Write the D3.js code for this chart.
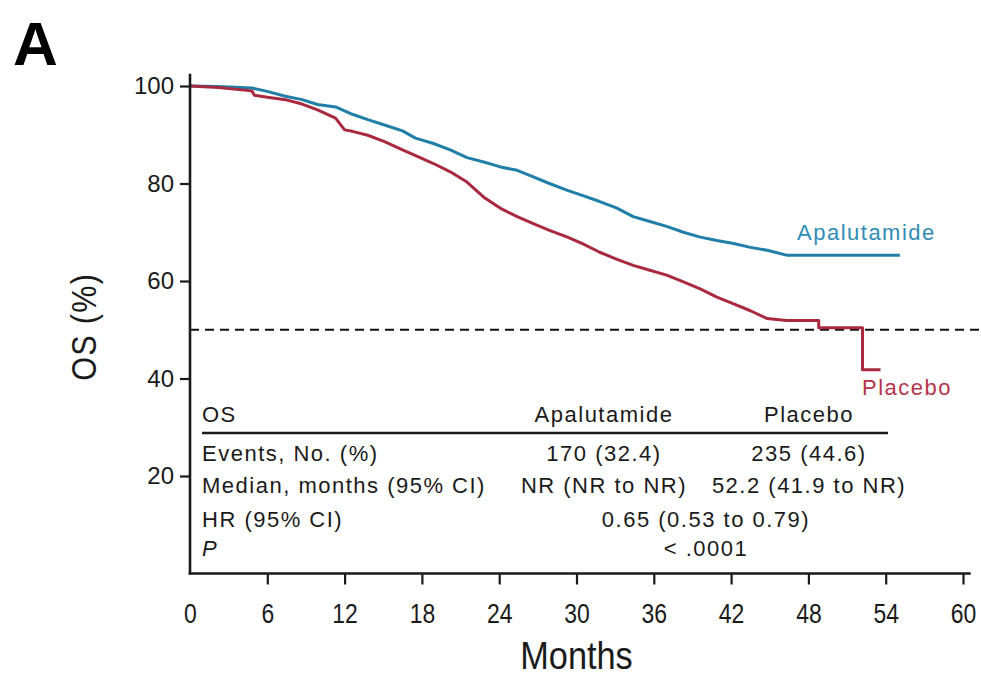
<!DOCTYPE html>
<html>
<head>
<meta charset="utf-8">
<script src="https://cdn.jsdelivr.net/npm/d3@7/dist/d3.min.js"></script>
<style>
  html, body { margin: 0; padding: 0; background: #ffffff; }
  svg { display: block; }
  .regular { font-family: "Liberation Sans", Arial, Helvetica, sans-serif; }
</style>
</head>
<body>
<svg id="chart" width="981" height="678"></svg>
<script>
// Kaplan-Meier overall survival, months vs OS (%)
const apaMonths = [0, 2.2, 4.8, 6.0, 7.4, 8.7, 9.9, 11.3, 12.6, 13.8, 15.1, 16.5, 17.5, 18.9, 20.2, 21.5, 22.8, 24.1, 25.4, 26.6, 27.9, 29.3, 30.5, 31.8, 33.1, 34.4, 35.7, 37.0, 38.3, 39.6, 40.9, 42.2, 43.5, 44.8, 46.3, 55.1];
const apaOS     = [100, 99.9, 99.6, 98.9, 97.9, 97.2, 96.2, 95.7, 94.2, 93.1, 92.0, 90.8, 89.3, 88.2, 86.9, 85.3, 84.4, 83.4, 82.7, 81.4, 80.0, 78.6, 77.5, 76.3, 75.0, 73.2, 72.2, 71.2, 70.0, 69.0, 68.3, 67.7, 66.9, 66.3, 65.3, 65.3];

const plaMonths = [0, 2.2, 4.8, 5.0, 6.0, 7.4, 8.7, 9.9, 11.3, 12.0, 12.6, 13.8, 15.1, 16.5, 17.6, 18.9, 20.2, 21.5, 22.8, 24.1, 25.4, 26.6, 27.9, 29.3, 30.5, 31.8, 33.1, 34.4, 35.7, 37.0, 38.3, 39.6, 40.9, 42.2, 43.5, 44.8, 46.3, 48.8, 48.8, 52.2, 52.2, 53.6];
const plaOS     = [100, 99.7, 99.0, 98.1, 97.7, 97.2, 96.3, 95.1, 93.4, 91.0, 90.7, 89.9, 88.6, 86.9, 85.6, 84.1, 82.4, 80.3, 77.2, 74.9, 73.2, 71.8, 70.4, 69.0, 67.6, 65.9, 64.5, 63.2, 62.2, 61.2, 59.8, 58.4, 56.7, 55.3, 53.9, 52.3, 51.9, 51.9, 50.4, 50.4, 41.8, 41.8];

const xTicks = [0, 6, 12, 18, 24, 30, 36, 42, 48, 54, 60];
const yTicks = [20, 40, 60, 80, 100];
const medianLevel = 50;

const seriesNames = ["Apalutamide", "Placebo"];
const seriesColors = ["#1f7fa8", "#a9293f"];
const labelColors = ["#2f8cb6", "#b3354b"];

// Summary table
const tableHeader = ["OS", "Apalutamide", "Placebo"];
const tableRows = [
  { label: "Events, No. (%)", apa: "170 (32.4)", pla: "235 (44.6)" },
  { label: "Median, months (95% CI)", apa: "NR (NR to NR)", pla: "52.2 (41.9 to NR)" },
  { label: "HR (95% CI)", both: "0.65 (0.53 to 0.79)" },
  { label: "P", both: "< .0001", italic: true }
];

const svg = d3.select("#chart");
const W = 981;
const ink = "#1a1a1a";
const condense = 0.82; // horizontal squeeze for the condensed axis lettering

const x = d3.scaleLinear().domain([0, 60]).range([190, 963]);
const y = d3.scaleLinear().domain([0, 100]).range([573.5, 86]);

// Panel letter
svg.append("text")
  .attr("class", "regular")
  .attr("x", 13).attr("y", 65)
  .attr("font-size", 62).attr("font-weight", "bold")
  .attr("fill", "#000")
  .text("A");

// Median reference line
svg.append("line")
  .attr("x1", x(0)).attr("x2", W)
  .attr("y1", y(medianLevel)).attr("y2", y(medianLevel))
  .attr("stroke", "#111").attr("stroke-width", 2.2)
  .attr("stroke-dasharray", "9,6");

// Survival curves
const line = d3.line().x(d => x(d[0])).y(d => y(d[1])).curve(d3.curveLinear);
const series = [
  d3.zip(apaMonths, apaOS),
  d3.zip(plaMonths, plaOS)
];
svg.selectAll("path.km")
  .data(series)
  .join("path")
  .attr("class", "km")
  .attr("d", line)
  .attr("fill", "none")
  .attr("stroke", (d, i) => seriesColors[i])
  .attr("stroke-width", 3)
  .attr("stroke-linejoin", "round");

// Curve labels
svg.append("text").attr("class", "regular")
  .attr("x", 797).attr("y", 239.5)
  .attr("font-size", 22).attr("letter-spacing", 1.5)
  .attr("fill", labelColors[0]).text(seriesNames[0]);
svg.append("text").attr("class", "regular")
  .attr("x", 862).attr("y", 395)
  .attr("font-size", 22).attr("letter-spacing", 1.5)
  .attr("fill", labelColors[1]).text(seriesNames[1]);

// Y axis
const yAxis = d3.axisLeft(y).tickValues(yTicks).tickSize(10).tickSizeOuter(0).tickPadding(6);
const gy = svg.append("g").attr("transform", `translate(${x(0)},0)`).call(yAxis);
gy.select(".domain").remove();
gy.selectAll(".tick line").attr("stroke", ink).attr("stroke-width", 2.2);
gy.selectAll(".tick text")
  .attr("class", "regular")
  .attr("font-family", null)
  .attr("font-size", 24).attr("fill", ink);
gy.append("line")
  .attr("x1", 0).attr("x2", 0)
  .attr("y1", y(0) + 1).attr("y2", y(102.5))
  .attr("stroke", ink).attr("stroke-width", 2.6);

// X axis
const xAxis = d3.axisBottom(x).tickValues(xTicks).tickSize(11).tickSizeOuter(0).tickPadding(19);
const gx = svg.append("g").attr("transform", `translate(0,${y(0)})`).call(xAxis);
gx.select(".domain").remove();
gx.selectAll(".tick line").attr("stroke", ink).attr("stroke-width", 2.2)
  .filter(d => d === 0).remove();
gx.selectAll(".tick text")
  .attr("class", "regular")
  .attr("font-family", null)
  .attr("font-size", 28).attr("fill", ink)
  .attr("transform", `scale(${condense},1)`);
gx.append("line")
  .attr("x1", x(0) - 1.3).attr("x2", x(60.6))
  .attr("y1", 0).attr("y2", 0)
  .attr("stroke", ink).attr("stroke-width", 2.6);

// Axis titles
svg.append("text").attr("class", "regular")
  .attr("transform", `translate(96,${y(50) - 3}) rotate(-90) scale(0.85,1)`)
  .attr("text-anchor", "middle")
  .attr("font-size", 36).attr("letter-spacing", 1.5)
  .attr("fill", ink)
  .text("OS (%)");
svg.append("text").attr("class", "regular")
  .attr("transform", `translate(${(x(0) + x(60)) / 2},669) scale(0.88,1)`)
  .attr("text-anchor", "middle")
  .attr("font-size", 39)
  .attr("fill", ink)
  .text("Months");

// Summary table inside the plot area
const tbl = svg.append("g").attr("class", "regular").attr("fill", ink);
const colLabelX = 202;
const colApaX = 604;
const colPlaX = 809;
const colBothX = 706;
const tableFont = 22;
const tableSpacing = 1.5;

tbl.append("text").attr("x", colLabelX).attr("y", 421.5)
  .attr("font-size", tableFont).attr("letter-spacing", tableSpacing).text(tableHeader[0]);
tbl.append("text").attr("x", colApaX).attr("y", 421.5).attr("text-anchor", "middle")
  .attr("font-size", tableFont).attr("letter-spacing", tableSpacing).text(tableHeader[1]);
tbl.append("text").attr("x", colPlaX).attr("y", 421.5).attr("text-anchor", "middle")
  .attr("font-size", tableFont).attr("letter-spacing", tableSpacing).text(tableHeader[2]);
tbl.append("line")
  .attr("x1", colLabelX).attr("x2", 888)
  .attr("y1", 433).attr("y2", 433)
  .attr("stroke", ink).attr("stroke-width", 2.4);

const rowY = [460.5, 493.3, 526.5, 556];
tableRows.forEach((r, i) => {
  tbl.append("text").attr("x", colLabelX).attr("y", rowY[i])
    .attr("font-size", tableFont).attr("letter-spacing", tableSpacing)
    .attr("font-style", r.italic ? "italic" : null)
    .text(r.label);
  if (r.both) {
    tbl.append("text").attr("x", colBothX).attr("y", rowY[i]).attr("text-anchor", "middle")
      .attr("font-size", tableFont).attr("letter-spacing", tableSpacing).text(r.both);
  } else {
    tbl.append("text").attr("x", colApaX).attr("y", rowY[i]).attr("text-anchor", "middle")
      .attr("font-size", tableFont).attr("letter-spacing", tableSpacing).text(r.apa);
    tbl.append("text").attr("x", colPlaX).attr("y", rowY[i]).attr("text-anchor", "middle")
      .attr("font-size", tableFont).attr("letter-spacing", tableSpacing).text(r.pla);
  }
});
</script>
</body>
</html>
